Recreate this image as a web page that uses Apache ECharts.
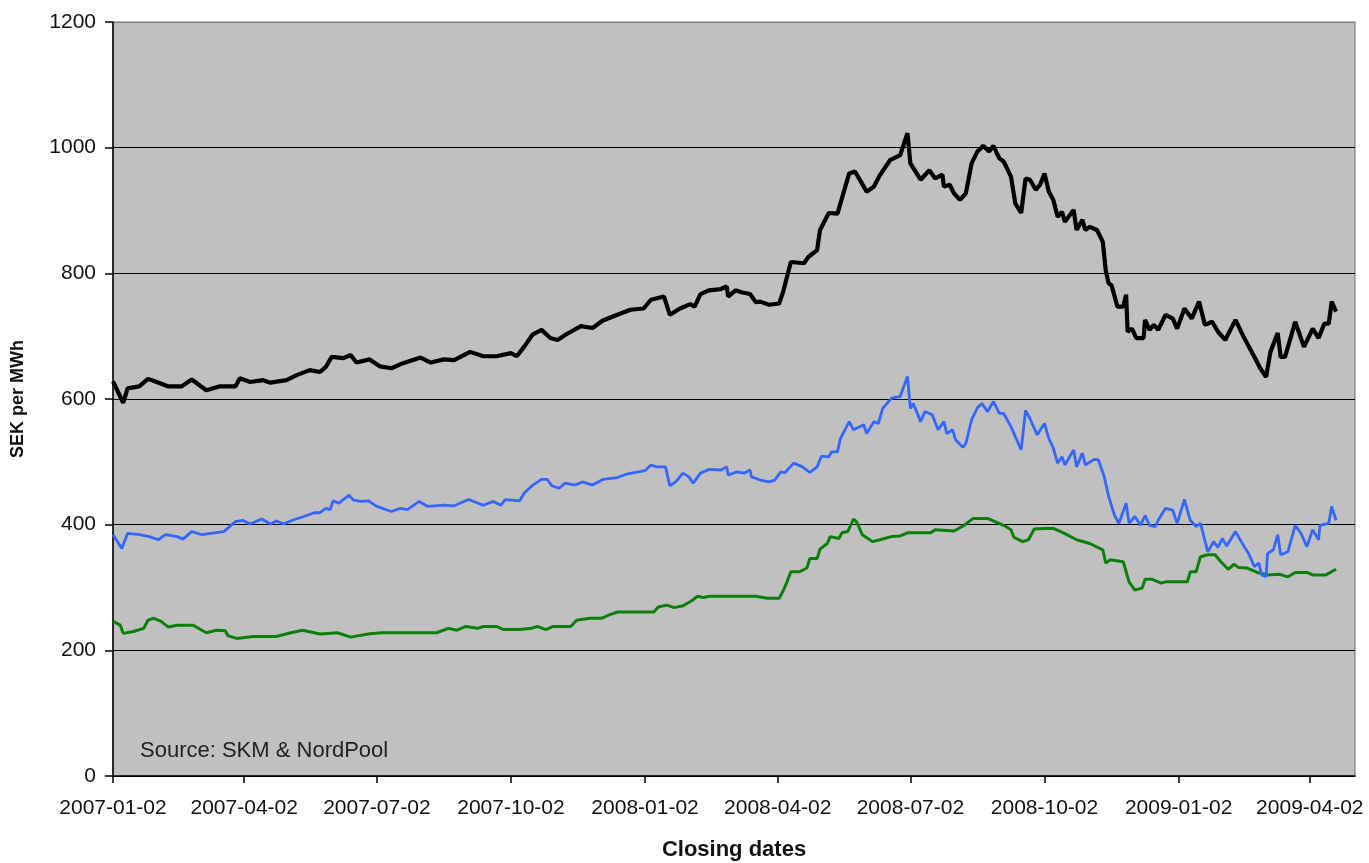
<!DOCTYPE html>
<html>
<head>
<meta charset="utf-8">
<script src="https://cdn.jsdelivr.net/npm/echarts@6/dist/echarts.min.js"></script>
<style>
html,body{margin:0;padding:0;background:#fff;}
#chart{width:1369px;height:863px;}
</style>
</head>
<body>
<div id="chart"></div>
<script>
// ---- tick labels ----
var xTickLabels = ['2007-01-02','2007-04-02','2007-07-02','2007-10-02','2008-01-02','2008-04-02','2008-07-02','2008-10-02','2009-01-02','2009-04-02'];
var xMin = '2007-01-02';
var xMax = '2009-05-03';
var yTicks = [0, 200, 400, 600, 800, 1000, 1200];

// ---- black series ----
var blackDates = ['2007-01-02','2007-01-09','2007-01-12','2007-01-20','2007-01-26','2007-02-01','2007-02-09','2007-02-18','2007-02-25','2007-03-07','2007-03-16','2007-03-27','2007-03-30','2007-04-06','2007-04-15','2007-04-20','2007-05-01','2007-05-08','2007-05-17','2007-05-24','2007-05-28','2007-06-01','2007-06-09','2007-06-14','2007-06-18','2007-06-27','2007-07-04','2007-07-12','2007-07-20','2007-08-01','2007-08-08','2007-08-17','2007-08-24','2007-09-04','2007-09-13','2007-09-22','2007-10-02','2007-10-06','2007-10-11','2007-10-17','2007-10-23','2007-10-29','2007-11-03','2007-11-09','2007-11-19','2007-11-27','2007-12-04','2007-12-14','2007-12-23','2008-01-01','2008-01-06','2008-01-15','2008-01-19','2008-01-26','2008-02-02','2008-02-05','2008-02-09','2008-02-15','2008-02-23','2008-02-27','2008-02-28','2008-03-04','2008-03-08','2008-03-14','2008-03-18','2008-03-21','2008-03-27','2008-04-03','2008-04-06','2008-04-11','2008-04-20','2008-04-23','2008-04-29','2008-05-01','2008-05-07','2008-05-13','2008-05-21','2008-05-25','2008-06-02','2008-06-07','2008-06-11','2008-06-18','2008-06-25','2008-06-30','2008-07-02','2008-07-09','2008-07-15','2008-07-19','2008-07-24','2008-07-25','2008-07-29','2008-08-01','2008-08-05','2008-08-09','2008-08-13','2008-08-17','2008-08-21','2008-08-25','2008-08-28','2008-09-01','2008-09-04','2008-09-09','2008-09-12','2008-09-16','2008-09-19','2008-09-22','2008-09-26','2008-09-29','2008-10-02','2008-10-05','2008-10-08','2008-10-11','2008-10-14','2008-10-16','2008-10-22','2008-10-24','2008-10-28','2008-10-30','2008-11-02','2008-11-07','2008-11-11','2008-11-13','2008-11-15','2008-11-17','2008-11-21','2008-11-25','2008-11-27','2008-11-28','2008-12-01','2008-12-04','2008-12-09','2008-12-10','2008-12-13','2008-12-16','2008-12-19','2008-12-24','2008-12-29','2009-01-01','2009-01-06','2009-01-11','2009-01-16','2009-01-20','2009-01-25','2009-01-29','2009-02-03','2009-02-10','2009-02-16','2009-02-23','2009-02-27','2009-03-03','2009-03-06','2009-03-11','2009-03-13','2009-03-16','2009-03-23','2009-03-29','2009-04-04','2009-04-08','2009-04-12','2009-04-15','2009-04-17','2009-04-20'];
var blackValues = [628,594,617,620,632,627,620,620,631,614,620,620,633,627,630,626,630,638,646,643,651,667,665,670,658,663,652,649,657,666,658,663,662,675,668,668,673,668,683,703,710,697,694,703,716,713,725,734,742,744,758,763,734,744,751,747,767,773,775,779,763,773,770,767,754,755,750,752,773,818,816,826,837,869,896,895,959,962,930,938,956,980,988,1023,975,949,964,951,957,938,941,927,917,927,975,994,1003,994,1003,983,978,954,911,896,951,949,933,941,959,930,917,890,898,882,901,869,885,869,874,869,850,805,784,781,747,747,766,707,712,697,697,726,710,718,710,734,728,712,744,728,755,718,723,707,694,726,697,667,649,635,675,705,667,667,723,683,712,697,720,720,755,739];

// ---- blue series ----
var blueDates = ['2007-01-02','2007-01-08','2007-01-12','2007-01-20','2007-01-27','2007-02-02','2007-02-07','2007-02-15','2007-02-19','2007-02-25','2007-03-04','2007-03-10','2007-03-19','2007-03-27','2007-04-01','2007-04-06','2007-04-14','2007-04-20','2007-04-24','2007-04-29','2007-05-05','2007-05-13','2007-05-20','2007-05-24','2007-05-28','2007-05-31','2007-06-02','2007-06-06','2007-06-09','2007-06-13','2007-06-16','2007-06-21','2007-06-26','2007-07-02','2007-07-12','2007-07-18','2007-07-23','2007-07-31','2007-08-06','2007-08-17','2007-08-24','2007-09-03','2007-09-13','2007-09-20','2007-09-25','2007-09-28','2007-10-08','2007-10-11','2007-10-17','2007-10-23','2007-10-27','2007-10-30','2007-11-04','2007-11-08','2007-11-15','2007-11-20','2007-11-27','2007-12-04','2007-12-14','2007-12-21','2008-01-02','2008-01-06','2008-01-10','2008-01-16','2008-01-19','2008-01-23','2008-01-28','2008-02-01','2008-02-04','2008-02-09','2008-02-15','2008-02-23','2008-02-27','2008-02-28','2008-03-05','2008-03-10','2008-03-14','2008-03-15','2008-03-21','2008-03-27','2008-03-31','2008-04-04','2008-04-07','2008-04-13','2008-04-19','2008-04-24','2008-04-29','2008-05-02','2008-05-07','2008-05-09','2008-05-13','2008-05-15','2008-05-21','2008-05-24','2008-05-31','2008-06-02','2008-06-07','2008-06-10','2008-06-13','2008-06-19','2008-06-25','2008-06-30','2008-07-02','2008-07-04','2008-07-09','2008-07-12','2008-07-17','2008-07-21','2008-07-25','2008-07-27','2008-07-31','2008-08-02','2008-08-07','2008-08-09','2008-08-13','2008-08-17','2008-08-20','2008-08-24','2008-08-28','2008-09-01','2008-09-04','2008-09-09','2008-09-12','2008-09-16','2008-09-19','2008-09-22','2008-09-27','2008-10-02','2008-10-05','2008-10-08','2008-10-11','2008-10-14','2008-10-16','2008-10-22','2008-10-24','2008-10-28','2008-10-30','2008-11-05','2008-11-08','2008-11-12','2008-11-15','2008-11-19','2008-11-22','2008-11-27','2008-11-29','2008-12-03','2008-12-07','2008-12-10','2008-12-13','2008-12-17','2008-12-19','2008-12-24','2008-12-29','2009-01-01','2009-01-06','2009-01-10','2009-01-14','2009-01-17','2009-01-22','2009-01-26','2009-01-29','2009-02-01','2009-02-04','2009-02-10','2009-02-16','2009-02-19','2009-02-23','2009-02-26','2009-02-28','2009-03-03','2009-03-04','2009-03-08','2009-03-11','2009-03-13','2009-03-18','2009-03-23','2009-03-27','2009-03-31','2009-04-04','2009-04-08','2009-04-09','2009-04-15','2009-04-17','2009-04-20'];
var blueValues = [384,362,386,384,381,376,384,381,377,389,384,386,389,405,407,401,409,401,406,401,407,413,419,419,426,424,438,434,440,447,439,437,438,429,421,426,424,437,429,431,430,440,431,437,431,440,438,450,463,472,472,462,458,466,463,468,463,472,475,481,486,495,492,492,462,468,482,476,466,482,488,487,492,479,484,482,487,476,471,468,471,484,483,498,492,483,492,509,508,516,516,537,564,551,559,545,564,561,585,601,604,636,585,593,564,580,575,551,564,545,551,535,523,529,567,586,593,580,596,577,577,556,540,519,582,569,543,561,537,522,498,508,495,519,492,514,495,504,503,476,445,415,402,434,402,413,399,415,399,397,407,426,423,402,440,407,397,402,357,373,364,378,366,389,365,354,333,339,320,317,354,360,384,352,357,399,386,365,392,376,399,402,429,407];

// ---- green series ----
var greenDates = ['2007-01-02','2007-01-07','2007-01-09','2007-01-16','2007-01-23','2007-01-26','2007-01-30','2007-02-04','2007-02-09','2007-02-15','2007-02-26','2007-03-07','2007-03-14','2007-03-20','2007-03-22','2007-03-28','2007-04-08','2007-04-24','2007-05-04','2007-05-12','2007-05-24','2007-06-05','2007-06-14','2007-06-26','2007-07-05','2007-08-12','2007-08-20','2007-08-26','2007-09-01','2007-09-09','2007-09-13','2007-09-22','2007-09-27','2007-10-08','2007-10-16','2007-10-20','2007-10-26','2007-10-31','2007-11-12','2007-11-16','2007-11-25','2007-12-03','2007-12-08','2007-12-14','2007-12-27','2008-01-08','2008-01-11','2008-01-17','2008-01-22','2008-01-28','2008-02-03','2008-02-07','2008-02-11','2008-02-15','2008-02-23','2008-03-18','2008-03-26','2008-04-03','2008-04-06','2008-04-08','2008-04-11','2008-04-17','2008-04-22','2008-04-24','2008-04-29','2008-05-01','2008-05-06','2008-05-08','2008-05-14','2008-05-16','2008-05-20','2008-05-24','2008-05-26','2008-05-30','2008-06-06','2008-06-11','2008-06-19','2008-06-25','2008-06-30','2008-07-09','2008-07-16','2008-07-19','2008-08-01','2008-08-08','2008-08-14','2008-08-24','2008-08-29','2008-09-04','2008-09-09','2008-09-11','2008-09-17','2008-09-21','2008-09-25','2008-10-02','2008-10-08','2008-10-15','2008-10-24','2008-11-02','2008-11-11','2008-11-13','2008-11-16','2008-11-25','2008-11-29','2008-12-03','2008-12-08','2008-12-10','2008-12-15','2008-12-21','2008-12-24','2009-01-08','2009-01-10','2009-01-14','2009-01-17','2009-01-22','2009-01-27','2009-01-31','2009-02-05','2009-02-09','2009-02-12','2009-02-18','2009-02-25','2009-03-04','2009-03-12','2009-03-18','2009-03-23','2009-03-31','2009-04-04','2009-04-13','2009-04-20'];
var greenValues = [246,240,227,230,235,248,251,246,237,240,240,228,232,231,223,219,222,222,228,232,226,228,221,226,228,228,235,232,238,235,238,238,233,233,235,238,233,238,238,248,251,251,256,261,261,261,269,272,268,271,279,286,284,286,286,286,283,283,296,307,325,325,331,346,346,361,370,381,378,387,389,409,405,384,373,376,381,382,387,387,387,392,390,399,410,410,405,399,392,380,373,376,393,394,394,387,376,370,360,339,344,341,309,296,299,313,313,307,309,309,325,325,349,352,352,341,329,337,332,331,324,320,321,317,324,324,320,320,329];

function toTs(s){ var p = s.split('-'); return new Date(+p[0], +p[1]-1, +p[2]).getTime(); }
function pad(n){ return (n < 10 ? '0' : '') + n; }
function fmt(v){ var d = new Date(v); return d.getFullYear() + '-' + pad(d.getMonth()+1) + '-' + pad(d.getDate()); }
function zip(dates, vals){ return dates.map(function(d, i){ return [toTs(d), vals[i]]; }); }

var FONT = '"Liberation Sans", Arial, sans-serif';
var tickTs = xTickLabels.map(toTs);

var chart = echarts.init(document.getElementById('chart'), null, {renderer: 'canvas'});
chart.setOption({
  animation: false,
  backgroundColor: '#ffffff',
  grid: {
    left: 113, right: 14, top: 22, bottom: 87,
    show: true, backgroundColor: '#C0C0C0', borderColor: '#808080', borderWidth: 1.2,
    containLabel: false,
    outerBoundsMode: 'none'
  },
  xAxis: {
    type: 'value',
    min: toTs(xMin),
    max: toTs(xMax),
    scale: true,
    name: 'Closing dates',
    nameLocation: 'middle',
    nameGap: 63,
    nameTextStyle: { fontFamily: FONT, fontSize: 22, fontWeight: 'bold', color: '#111' },
    axisLine: { show: true, onZero: false, lineStyle: { color: '#000', width: 1.5 } },
    axisTick: { show: true, length: 7, customValues: tickTs, lineStyle: { color: '#000', width: 1.5 } },
    axisLabel: {
      show: true, customValues: tickTs, margin: 22, hideOverlap: false,
      fontFamily: FONT, fontSize: 21, color: '#111',
      formatter: function(v){ return fmt(v); }
    },
    splitLine: { show: false }
  },
  yAxis: {
    type: 'value',
    min: 0, max: 1200, interval: 200,
    name: 'SEK per MWh',
    nameLocation: 'middle',
    nameGap: 86,
    nameRotate: 90,
    nameTextStyle: { fontFamily: FONT, fontSize: 18, fontWeight: 'bold', color: '#111' },
    axisLine: { show: true, lineStyle: { color: '#000', width: 1.5 } },
    axisTick: { show: true, length: 8, lineStyle: { color: '#000', width: 1.5 } },
    axisLabel: {
      margin: 17, fontFamily: FONT, fontSize: 21, color: '#111',
      formatter: function(v){ return yTicks.indexOf(v) >= 0 ? String(v) : ''; }
    },
    splitLine: { show: true, lineStyle: { color: ['#000','#000','#000','#000','#000','#000','#808080'], width: 1.2 } }
  },
  graphic: [{
    type: 'text', left: 140, top: 740, silent: true,
    style: { text: 'Source: SKM & NordPool', fontFamily: FONT, fontSize: 22, fill: '#222' }
  }],
  series: [
    { name: 'Green', type: 'line', data: zip(greenDates, greenValues), showSymbol: false, symbol: 'none',
      lineStyle: { color: '#0A800A', width: 3 }, z: 3 },
    { name: 'Blue', type: 'line', data: zip(blueDates, blueValues), showSymbol: false, symbol: 'none',
      lineStyle: { color: '#3366FF', width: 2.8 }, z: 4 },
    { name: 'Black', type: 'line', data: zip(blackDates, blackValues), showSymbol: false, symbol: 'none',
      lineStyle: { color: '#000000', width: 4.2 }, z: 5 }
  ]
});
</script>
</body>
</html>
